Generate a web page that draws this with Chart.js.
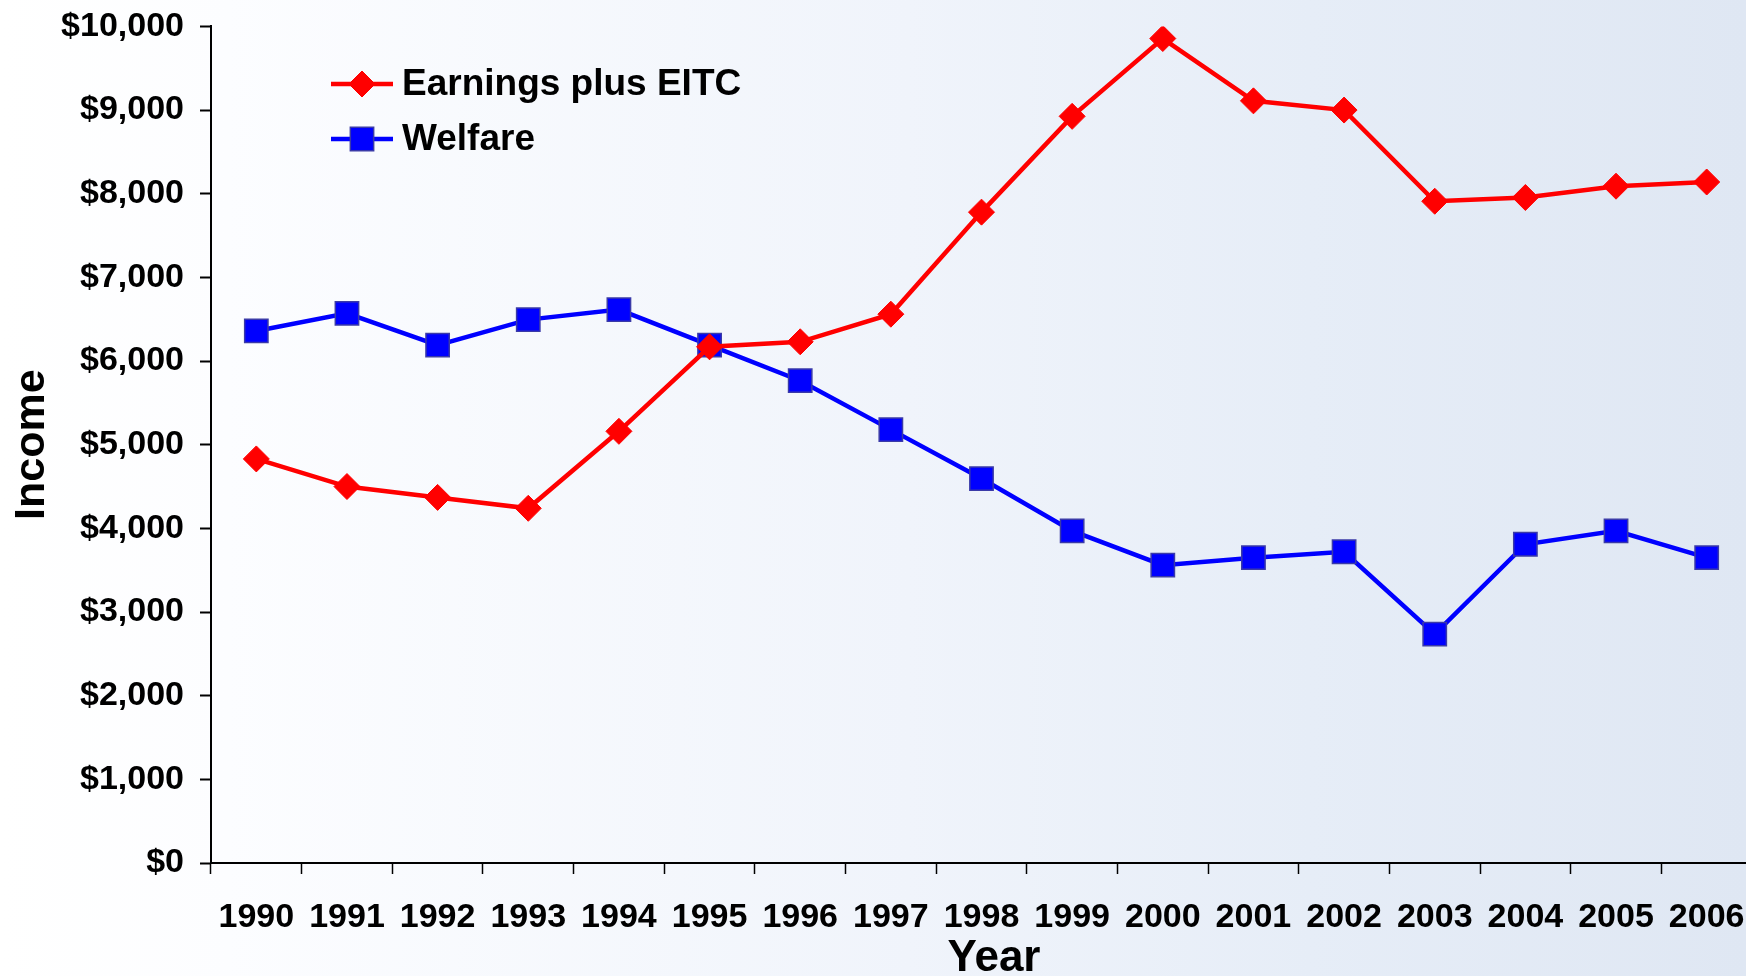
<!DOCTYPE html>
<html>
<head>
<meta charset="utf-8">
<script src="https://cdn.jsdelivr.net/npm/chart.js@4.4.1/dist/chart.umd.min.js"></script>
<style>
  html, body {
    margin: 0;
    padding: 0;
    width: 1746px;
    height: 976px;
    overflow: hidden;
    background: linear-gradient(to right, #ffffff 0%, #fcfdff 13%, #f0f4fb 52%, #e6edf7 75%, #dfe7f3 100%);
  }
  #wrap { position: absolute; left: 0; top: -10px; width: 1770px; height: 1000px; }
</style>
</head>
<body>
<div id="wrap"><canvas id="incomeChart"></canvas></div>
<script>
const years = ['1990', '1991', '1992', '1993', '1994', '1995', '1996', '1997', '1998',
  '1999', '2000', '2001', '2002', '2003', '2004', '2005', '2006'];
const earnings = [4830, 4500, 4370, 4240, 5160, 6170, 6230, 6560, 7780,
  8925, 9855, 9110, 9000, 7910, 7955, 8090, 8140];
const welfare = [6360, 6570, 6190, 6495, 6615, 6190, 5765, 5180, 4595,
  3970, 3560, 3650, 3720, 2735, 3810, 3970, 3650];
const seriesNames = ['Earnings plus EITC', 'Welfare'];
const xTitle = 'Year';

const FONT = "'Liberation Sans', Arial, sans-serif";
Chart.defaults.font.family = FONT;
Chart.defaults.font.weight = 'bold';
Chart.defaults.color = '#000';

function money(value) {
  return '$' + Number(value).toLocaleString('en-US');
}

// legend drawn inside the plot, top-left, plus the x axis title
const insideLegend = {
  id: 'insideLegend',
  afterDatasetsDraw(chart) {
    const ctx = chart.ctx;
    ctx.save();
    ctx.font = 'bold 37px ' + FONT;
    ctx.textBaseline = 'middle';
    chart.data.datasets.forEach((ds, i) => {
      const y = 94 + i * 55;
      ctx.strokeStyle = ds.borderColor;
      ctx.lineWidth = ds.borderWidth;
      ctx.beginPath();
      ctx.moveTo(331, y);
      ctx.lineTo(393, y);
      ctx.stroke();
      ctx.fillStyle = ds.pointBackgroundColor;
      ctx.strokeStyle = ds.pointBorderColor;
      ctx.lineWidth = ds.pointBorderWidth;
      Chart.helpers.drawPoint(ctx, {
        pointStyle: ds.pointStyle,
        radius: ds.pointRadius,
        borderWidth: ds.pointBorderWidth,
        rotation: 0
      }, 362, y);
      ctx.fillStyle = '#000';
      ctx.fillText(ds.label, 402, y + 1);
    });

    ctx.font = 'bold 44px ' + FONT;
    ctx.textAlign = 'center';
    ctx.fillText(xTitle, 994, 969);
    ctx.restore();
  }
};

new Chart(document.getElementById('incomeChart'), {
  type: 'line',
  data: {
    labels: years,
    datasets: [{
      label: seriesNames[0],
      data: earnings,
      borderColor: '#ff0000',
      borderWidth: 4.5,
      pointStyle: 'rectRot',
      pointRadius: 13,
      pointHoverRadius: 13,
      pointBackgroundColor: '#ff0000',
      pointBorderColor: '#ff0000',
      pointBorderWidth: 1,
      tension: 0
    }, {
      label: seriesNames[1],
      data: welfare,
      borderColor: '#0000ff',
      borderWidth: 4.5,
      pointStyle: 'rect',
      pointRadius: 16.5,
      pointHoverRadius: 16.5,
      pointBackgroundColor: '#0000ff',
      pointBorderColor: '#3a3aa8',
      pointBorderWidth: 1.5,
      tension: 0
    }]
  },
  options: {
    responsive: true,
    maintainAspectRatio: false,
    animation: false,
    layout: { padding: { top: 0, right: 0, left: 0, bottom: 0 } },
    plugins: {
      legend: { display: false },
      tooltip: { enabled: false }
    },
    scales: {
      x: {
        offset: true,
        afterFit: (scale) => { scale.height = 127; },
        grid: {
          offset: true,
          drawOnChartArea: false,
          drawTicks: true,
          tickLength: 11,
          tickWidth: 1.5,
          tickColor: '#000'
        },
        border: { display: true, color: '#000', width: 2 },
        ticks: {
          font: { size: 34, weight: 'bold' },
          padding: 23,
          maxRotation: 0,
          autoSkip: false
        },
        title: { display: false }
      },
      y: {
        min: 0,
        max: 10000,
        afterFit: (scale) => { scale.width = 211; },
        grid: {
          drawOnChartArea: false,
          drawTicks: true,
          tickLength: 11,
          tickWidth: 2,
          tickColor: '#000'
        },
        border: { display: true, color: '#000', width: 2 },
        ticks: {
          stepSize: 1000,
          font: { size: 34, weight: 'bold' },
          padding: 16,
          callback: (value) => money(value)
        },
        title: {
          display: true,
          text: 'Income',
          font: { size: 43, weight: 'bold' },
          padding: { top: 6, bottom: 0 }
        }
      }
    }
  },
  plugins: [insideLegend]
});
</script>
</body>
</html>
